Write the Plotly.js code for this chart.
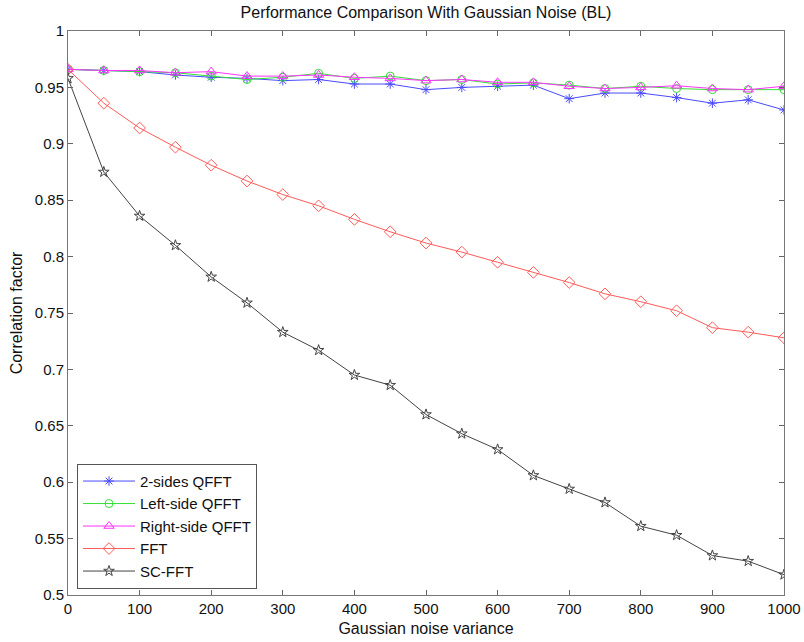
<!DOCTYPE html>
<html>
<head>
<meta charset="utf-8">
<script src="https://cdn.plot.ly/plotly-3.0.1.min.js"></script>
<style>html,body{margin:0;padding:0;background:#fff;}#chart{width:804px;height:642px;}</style>
</head>
<body>
<div id="chart"></div>
<script>
const noiseVariance = [0,50,100,150,200,250,300,350,400,450,500,550,600,650,700,750,800,850,900,950,1000];
const twoSidesQFFT = [0.966,0.965,0.964,0.961,0.959,0.958,0.956,0.957,0.953,0.953,0.948,0.950,0.951,0.952,0.940,0.945,0.945,0.941,0.936,0.939,0.930];
const leftSideQFFT = [0.966,0.965,0.964,0.963,0.960,0.957,0.959,0.9625,0.958,0.960,0.956,0.957,0.953,0.954,0.952,0.949,0.951,0.949,0.948,0.948,0.948];
const rightSideQFFT = [0.966,0.965,0.965,0.963,0.964,0.960,0.960,0.961,0.959,0.958,0.956,0.957,0.9545,0.9545,0.951,0.949,0.950,0.9515,0.949,0.948,0.951];
const fftCorr = [0.966,0.936,0.914,0.897,0.881,0.867,0.855,0.845,0.833,0.822,0.812,0.804,0.795,0.786,0.777,0.767,0.760,0.752,0.737,0.733,0.728];
const scFFT = [0.958,0.875,0.836,0.810,0.782,0.759,0.733,0.717,0.695,0.686,0.660,0.643,0.629,0.606,0.594,0.582,0.561,0.553,0.535,0.530,0.518];
const seriesNames = ['2-sides QFFT','Left-side QFFT','Right-side QFFT','FFT','SC-FFT'];
const xTicks = [0,100,200,300,400,500,600,700,800,900,1000];
const yTicks = [0.5,0.55,0.6,0.65,0.7,0.75,0.8,0.85,0.9,0.95,1];
const yTickText = ['0.5','0.55','0.6','0.65','0.7','0.75','0.8','0.85','0.9','0.95','1'];

const seriesData = [twoSidesQFFT, leftSideQFFT, rightSideQFFT, fftCorr, scFFT];
const colors = ['#4a4aff','#33e033','#ff33ff','#ff5a5a','#444444'];
const symbols = ['asterisk-open','circle-open','triangle-up-open','diamond-open','star-open'];
const sizes = [8,8,9,9,8];

const traces = seriesData.map((ys,i)=>({
  type:'scatter', mode:'lines+markers', name:seriesNames[i],
  x:noiseVariance, y:ys,
  line:{color:colors[i], width:1},
  marker:{symbol:symbols[i], size:sizes[i], color:colors[i], line:{color:colors[i], width:1}}
}));

const font = 'Liberation Sans, Arial, sans-serif';
const layout = {
  width:804, height:642,
  margin:{l:68, r:20, t:31, b:47},
  paper_bgcolor:'#fff', plot_bgcolor:'#fff',
  font:{family:font, size:14, color:'#111'},
  title:{text:'Performance Comparison With Gaussian Noise (BL)', font:{family:font, size:16, color:'#111'},
         x:0.5, xref:'paper', y:1-12/642, yref:'container', yanchor:'middle'},
  xaxis:{range:[0,1000], tickvals:xTicks, ticktext:xTicks.map(String), ticks:'inside', ticklen:5,
         tickcolor:'#666', showline:true, linecolor:'#777', linewidth:1, mirror:'ticks',
         showgrid:false, zeroline:false, tickfont:{size:15},
         title:{text:'Gaussian noise variance', font:{size:16}, standoff:6}},
  yaxis:{range:[0.5,1], tickvals:yTicks, ticktext:yTickText, ticks:'inside', ticklen:5,
         tickcolor:'#666', showline:true, linecolor:'#777', linewidth:1, mirror:'ticks',
         showgrid:false, zeroline:false, tickfont:{size:15},
         title:{text:'Correlation factor', font:{size:16}, standoff:8}},
  showlegend:true,
  legend:{x:0.0126, y:0.011, xanchor:'left', yanchor:'bottom', bgcolor:'#fff',
          bordercolor:'#555', borderwidth:1, font:{size:15, family:font}, tracegroupgap:0,
          itemwidth:52}
};
Plotly.newPlot('chart', traces, layout, {displayModeBar:false});
</script>
</body>
</html>
